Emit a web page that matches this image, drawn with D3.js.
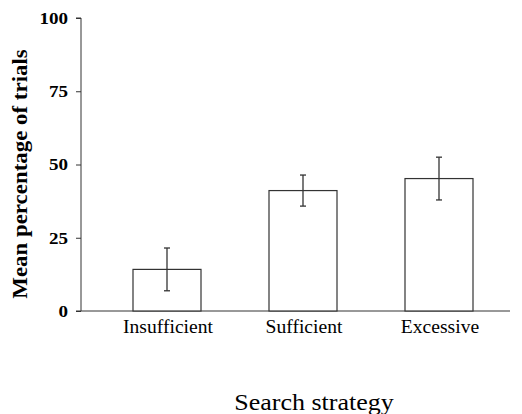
<!DOCTYPE html>
<html>
<head>
<meta charset="utf-8">
<script src="https://cdn.jsdelivr.net/npm/d3@7"></script>
<style>
body { margin: 0; background: #fff; }
</style>
</head>
<body>
<script>
var categories = ["Insufficient", "Sufficient", "Excessive"];
var means = [14.2, 41.1, 45.2];
var errors = [7.3, 5.3, 7.3];
var yTicks = [0, 25, 50, 75, 100];

var width = 522, height = 414;
var serif = "Liberation Serif, Times New Roman, serif";
var svg = d3.select("body").append("svg")
	.attr("width", width)
	.attr("height", height);

// widen text a bit, the scanned figure is stretched sideways
var stretch = function(sel, k){
	sel.each(function(){
		var len = this.getComputedTextLength();
		d3.select(this).attr("textLength", len * k).attr("lengthAdjust", "spacingAndGlyphs");
	});
};

var x = d3.scaleBand()
	.domain(categories)
	.range([99, 507])
	.paddingInner(0.5)
	.paddingOuter(0.25);

var y = d3.scaleLinear()
	.domain([0, 100])
	.range([311, 18]);

// y axis
var yAxis = svg.append("g")
	.attr("transform", "translate(81,0)")
	.call(d3.axisLeft(y).tickValues(yTicks).tickSize(5).tickPadding(8));
yAxis.select(".domain").attr("stroke", "#333").attr("d", "M-5," + y(100) + "H0V" + y(0));
yAxis.selectAll(".tick line").attr("stroke", "#333");
yAxis.selectAll(".tick text")
	.attr("font-family", serif)
	.attr("font-weight", "bold")
	.attr("font-size", 17)
	.attr("fill", "#000")
	.call(stretch, 1.12);

// x axis line
svg.append("line")
	.attr("x1", 76).attr("x2", 510)
	.attr("y1", y(0)).attr("y2", y(0))
	.attr("stroke", "#333");

// bars
svg.selectAll("rect.bar")
	.data(means)
	.enter().append("rect")
	.attr("class", "bar")
	.attr("x", function(d, i){ return x(categories[i]); })
	.attr("y", function(d){ return y(d); })
	.attr("width", x.bandwidth())
	.attr("height", function(d){ return y(0) - y(d); })
	.attr("fill", "#fff")
	.attr("stroke", "#333")
	.attr("stroke-width", 1.2);

// error bars
var eb = svg.selectAll("g.err")
	.data(means)
	.enter().append("g")
	.attr("class", "err")
	.attr("transform", function(d, i){ return "translate(" + (x(categories[i]) + x.bandwidth() / 2) + ",0)"; });
eb.append("line")
	.attr("y1", function(d, i){ return y(d + errors[i]); })
	.attr("y2", function(d, i){ return y(d - errors[i]); })
	.attr("stroke", "#333").attr("stroke-width", 1.3);
eb.append("line")
	.attr("x1", -3).attr("x2", 3)
	.attr("y1", function(d, i){ return y(d + errors[i]); })
	.attr("y2", function(d, i){ return y(d + errors[i]); })
	.attr("stroke", "#333").attr("stroke-width", 1.3);
eb.append("line")
	.attr("x1", -3).attr("x2", 3)
	.attr("y1", function(d, i){ return y(d - errors[i]); })
	.attr("y2", function(d, i){ return y(d - errors[i]); })
	.attr("stroke", "#333").attr("stroke-width", 1.3);

// category labels
svg.selectAll("text.cat")
	.data(categories)
	.enter().append("text")
	.attr("class", "cat")
	.attr("x", function(d){ return x(d) + x.bandwidth() / 2 + 1; })
	.attr("y", 333)
	.attr("text-anchor", "middle")
	.attr("font-family", serif)
	.attr("font-size", 19)
	.text(function(d){ return d; })
	.call(stretch, 1.03);

// axis titles
svg.append("text")
	.attr("x", 314)
	.attr("y", 410)
	.attr("text-anchor", "middle")
	.attr("font-family", serif)
	.attr("font-size", 23)
	.text("Search strategy")
	.call(stretch, 1.13);

svg.append("text")
	.attr("transform", "translate(27,174) rotate(-90)")
	.attr("text-anchor", "middle")
	.attr("font-family", serif)
	.attr("font-weight", "bold")
	.attr("font-size", 21)
	.text("Mean percentage of trials")
	.call(stretch, 1.09);
</script>
</body>
</html>
